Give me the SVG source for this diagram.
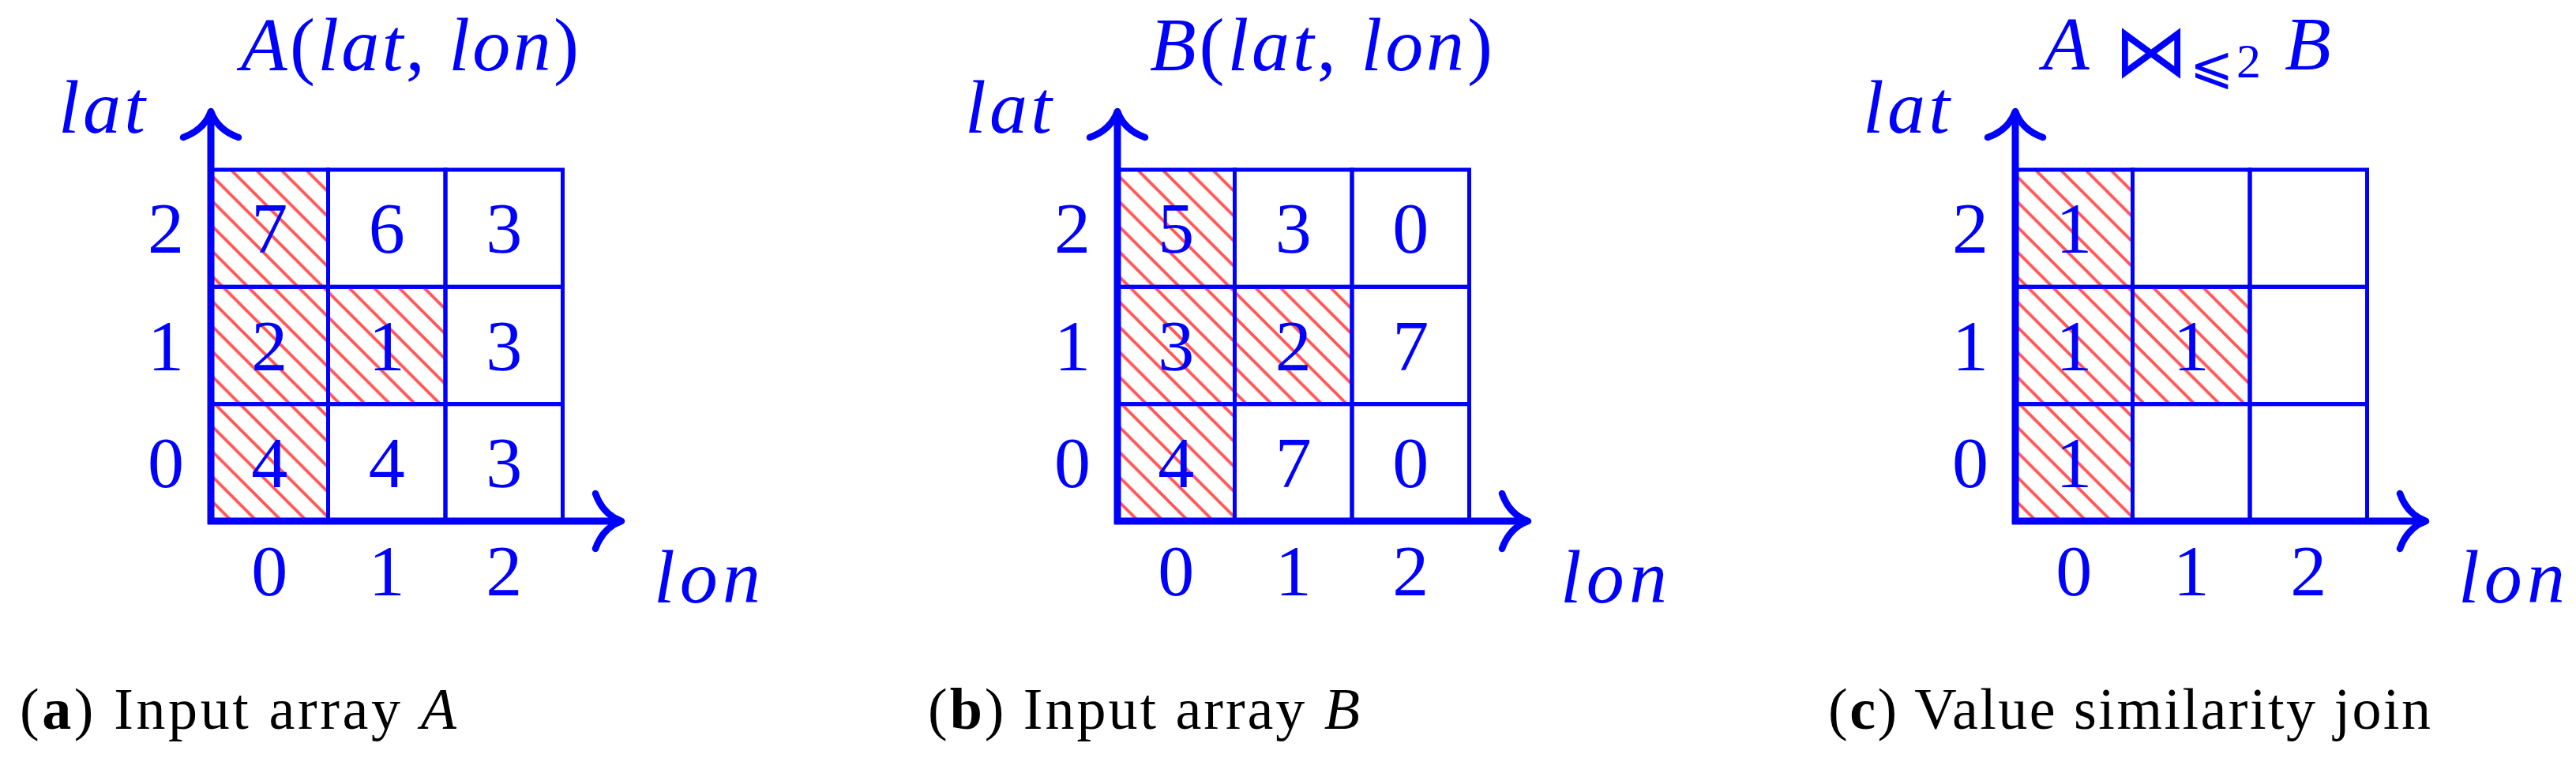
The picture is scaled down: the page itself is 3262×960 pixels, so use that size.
<svg xmlns="http://www.w3.org/2000/svg" xmlns:xlink="http://www.w3.org/1999/xlink" width="3262" height="960" viewBox="0 0 3262 960">
<defs>
<style>
.cell{fill:none;stroke:#0000ff;stroke-width:5}
.hat{fill:url(#hatch);stroke:#0000ff;stroke-width:5}
.m{font-family:'Liberation Serif','Times New Roman',serif;font-style:italic;font-size:96px;fill:#0000ff}
.up{font-style:normal}
.n{font-family:'Liberation Serif','Times New Roman',serif;font-size:92px;fill:#0000ff;text-anchor:middle}
.cap{font-family:'Liberation Serif','Times New Roman',serif;font-size:74px;fill:#000000}
.axis{stroke:#0000ff;stroke-width:9;fill:none}
</style>
<pattern id="hatch" patternUnits="userSpaceOnUse" x="14" y="0" width="31.7" height="31.7">
<path d="M-5,-5 L36.7,36.7 M26.7,-5 L36.7,5 M-5,26.7 L5,36.7" stroke="#ff5555" stroke-width="3.8" fill="none"/>
</pattern>
<path id="ahead" d="M-33,-35 C-27,-18 -17,-6 0,0 C-17,6 -27,18 -33,35" fill="none" stroke="#0000ff" stroke-width="8.5" stroke-linecap="round" stroke-linejoin="round"/>
<g id="axes">
<line class="axis" x1="267" y1="664" x2="267" y2="145"/>
<line class="axis" x1="263" y1="660" x2="783" y2="660"/>
<use xlink:href="#ahead" href="#ahead" transform="translate(787,660)"/>
<use xlink:href="#ahead" href="#ahead" transform="translate(267,141) rotate(-90)"/>
</g>
<g id="ticks">
<text class="n" x="210" y="320">2</text>
<text class="n" x="210" y="468.5">1</text>
<text class="n" x="210" y="617">0</text>
<text class="n" x="341.25" y="754">0</text>
<text class="n" x="489.75" y="754">1</text>
<text class="n" x="638.25" y="754">2</text>
<text class="m" x="74" y="168" textLength="110" lengthAdjust="spacing">lat</text>
<text class="m" x="828" y="763" textLength="135" lengthAdjust="spacing">lon</text>
</g>
</defs>

<!-- Panel A -->
<g id="panelA">
<text class="m" x="305" y="89" textLength="428" lengthAdjust="spacing">A<tspan class="up">(</tspan>lat<tspan class="up">,</tspan> lon<tspan class="up">)</tspan></text>
<g id="A-r2c0"><rect class="hat" x="267" y="215" width="148.5" height="148.3"/><text class="n" x="341.25" y="320">7</text></g>
<g id="A-r2c1"><rect class="cell" x="415.5" y="215" width="148.5" height="148.3"/><text class="n" x="489.75" y="320">6</text></g>
<g id="A-r2c2"><rect class="cell" x="564" y="215" width="148.5" height="148.3"/><text class="n" x="638.25" y="320">3</text></g>
<g id="A-r1c0"><rect class="hat" x="267" y="363.3" width="148.5" height="148.4"/><text class="n" x="341.25" y="468.5">2</text></g>
<g id="A-r1c1"><rect class="hat" x="415.5" y="363.3" width="148.5" height="148.4"/><text class="n" x="489.75" y="468.5">1</text></g>
<g id="A-r1c2"><rect class="cell" x="564" y="363.3" width="148.5" height="148.4"/><text class="n" x="638.25" y="468.5">3</text></g>
<g id="A-r0c0"><rect class="hat" x="267" y="511.7" width="148.5" height="148.3"/><text class="n" x="341.25" y="617">4</text></g>
<g id="A-r0c1"><rect class="cell" x="415.5" y="511.7" width="148.5" height="148.3"/><text class="n" x="489.75" y="617">4</text></g>
<g id="A-r0c2"><rect class="cell" x="564" y="511.7" width="148.5" height="148.3"/><text class="n" x="638.25" y="617">3</text></g>
<use xlink:href="#ticks" href="#ticks"/>
</g>

<!-- Panel B -->
<g id="panelB" transform="translate(1148,0)">
<text class="m" x="308" y="89" textLength="434" lengthAdjust="spacing">B<tspan class="up">(</tspan>lat<tspan class="up">,</tspan> lon<tspan class="up">)</tspan></text>
<g id="B-r2c0"><rect class="hat" x="267" y="215" width="148.5" height="148.3"/><text class="n" x="341.25" y="320">5</text></g>
<g id="B-r2c1"><rect class="cell" x="415.5" y="215" width="148.5" height="148.3"/><text class="n" x="489.75" y="320">3</text></g>
<g id="B-r2c2"><rect class="cell" x="564" y="215" width="148.5" height="148.3"/><text class="n" x="638.25" y="320">0</text></g>
<g id="B-r1c0"><rect class="hat" x="267" y="363.3" width="148.5" height="148.4"/><text class="n" x="341.25" y="468.5">3</text></g>
<g id="B-r1c1"><rect class="hat" x="415.5" y="363.3" width="148.5" height="148.4"/><text class="n" x="489.75" y="468.5">2</text></g>
<g id="B-r1c2"><rect class="cell" x="564" y="363.3" width="148.5" height="148.4"/><text class="n" x="638.25" y="468.5">7</text></g>
<g id="B-r0c0"><rect class="hat" x="267" y="511.7" width="148.5" height="148.3"/><text class="n" x="341.25" y="617">4</text></g>
<g id="B-r0c1"><rect class="cell" x="415.5" y="511.7" width="148.5" height="148.3"/><text class="n" x="489.75" y="617">7</text></g>
<g id="B-r0c2"><rect class="cell" x="564" y="511.7" width="148.5" height="148.3"/><text class="n" x="638.25" y="617">0</text></g>
<use xlink:href="#ticks" href="#ticks"/>
</g>

<!-- Panel C -->
<g id="panelC" transform="translate(2285,0)">
<g id="C-title">
<text class="m" x="302" y="88">A</text>
<text x="392" y="97" font-family="'DejaVu Sans', sans-serif" font-size="94" fill="#0000ff">⋈</text>
<text x="488" y="105" font-family="'DejaVu Sans', sans-serif" font-size="66" fill="#0000ff">⩽</text>
<text x="547" y="98" font-family="'Liberation Serif', serif" font-size="62" fill="#0000ff">2</text>
<text class="m" x="608" y="88">B</text>
</g>
<g id="C-r2c0"><rect class="hat" x="267" y="215" width="148.5" height="148.3"/><text class="n" x="341.25" y="320">1</text></g>
<g id="C-r2c1"><rect class="cell" x="415.5" y="215" width="148.5" height="148.3"/></g>
<g id="C-r2c2"><rect class="cell" x="564" y="215" width="148.5" height="148.3"/></g>
<g id="C-r1c0"><rect class="hat" x="267" y="363.3" width="148.5" height="148.4"/><text class="n" x="341.25" y="468.5">1</text></g>
<g id="C-r1c1"><rect class="hat" x="415.5" y="363.3" width="148.5" height="148.4"/><text class="n" x="489.75" y="468.5">1</text></g>
<g id="C-r1c2"><rect class="cell" x="564" y="363.3" width="148.5" height="148.4"/></g>
<g id="C-r0c0"><rect class="hat" x="267" y="511.7" width="148.5" height="148.3"/><text class="n" x="341.25" y="617">1</text></g>
<g id="C-r0c1"><rect class="cell" x="415.5" y="511.7" width="148.5" height="148.3"/></g>
<g id="C-r0c2"><rect class="cell" x="564" y="511.7" width="148.5" height="148.3"/></g>
<use xlink:href="#ticks" href="#ticks"/>
</g>

<!-- Connectors (axes) -->
<g id="connectors">
<use xlink:href="#axes" href="#axes"/>
<use xlink:href="#axes" href="#axes" transform="translate(1148,0)"/>
<use xlink:href="#axes" href="#axes" transform="translate(2285,0)"/>
</g>

<!-- Captions -->
<g id="captions">
<text class="cap" x="25" y="923" textLength="553" lengthAdjust="spacing">(<tspan font-weight="bold">a</tspan>) Input array <tspan font-style="italic">A</tspan></text>
<text class="cap" x="1175" y="923" textLength="547" lengthAdjust="spacing">(<tspan font-weight="bold">b</tspan>) Input array <tspan font-style="italic">B</tspan></text>
<text class="cap" x="2315" y="923" textLength="763" lengthAdjust="spacing">(<tspan font-weight="bold">c</tspan>) Value similarity join</text>
</g>
</svg>
